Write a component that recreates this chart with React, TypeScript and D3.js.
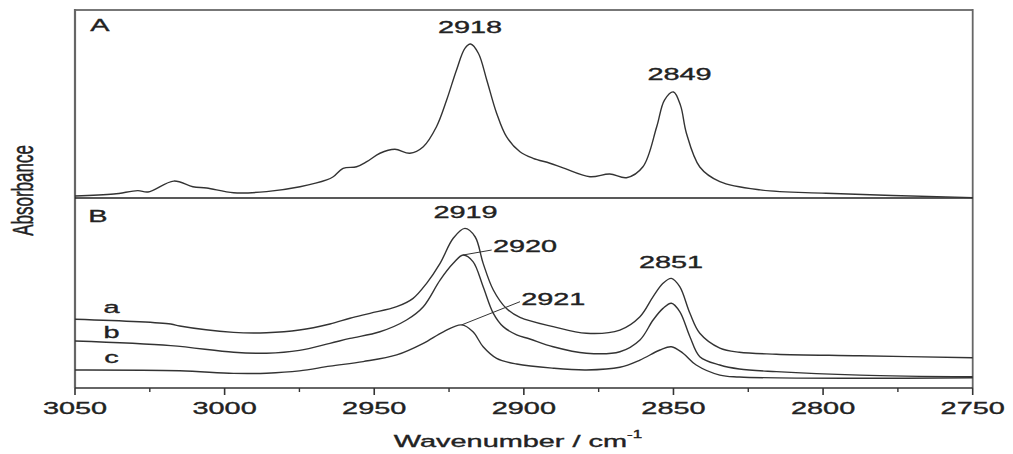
import React from 'react'
import * as d3 from 'd3'

// wavenumber (cm-1), absorbance (arb.)
const traceA: [number, number][] = [
  [3050, 0.011], [3037, 0.021], [3029, 0.039], [3025.6, 0.032], [3017, 0.09], [3010.6, 0.06],
  [3006, 0.053], [2997, 0.028], [2986, 0.034], [2974.8, 0.06], [2965.9, 0.096], [2963.7, 0.113],
  [2960.4, 0.158], [2955.9, 0.166], [2952.5, 0.193], [2948.1, 0.238], [2943.1, 0.259], [2938.1, 0.238],
  [2933.6, 0.273], [2929.2, 0.379], [2925.8, 0.521], [2922.5, 0.681], [2919.7, 0.796], [2917.8, 0.819],
  [2915.2, 0.77], [2912.4, 0.628], [2909.1, 0.451], [2905.8, 0.326], [2901.3, 0.246], [2896.9, 0.211],
  [2891.3, 0.185], [2886.9, 0.16], [2877.9, 0.113], [2871.3, 0.128], [2865.7, 0.108], [2860.2, 0.166],
  [2855.6, 0.379], [2853, 0.521], [2850, 0.564], [2847.6, 0.49], [2845.7, 0.346], [2841.2, 0.165],
  [2834.5, 0.087], [2821, 0.043], [2799, 0.025], [2750, 0.002],
]

const traceBa: [number, number][] = [
  [3050, 0.362], [3018, 0.337], [3015, 0.326], [2997, 0.293], [2986, 0.291], [2975, 0.305],
  [2964.8, 0.337], [2958.1, 0.367], [2951.4, 0.393], [2942.5, 0.428], [2937, 0.472], [2932.5, 0.551],
  [2928, 0.656], [2923.6, 0.788], [2919.7, 0.84], [2916.3, 0.796], [2913.6, 0.656], [2910.2, 0.516],
  [2905.8, 0.418], [2901.3, 0.372], [2890.2, 0.323], [2879.1, 0.288], [2867.9, 0.305], [2861.2, 0.375],
  [2856.8, 0.481], [2853.5, 0.551], [2850.7, 0.577], [2847.9, 0.533], [2844.5, 0.393], [2841.2, 0.288],
  [2834.5, 0.21], [2828, 0.188], [2815.6, 0.178], [2787.7, 0.17], [2750, 0.159],
]

const traceBb: [number, number][] = [
  [3050, 0.247], [3018, 0.223], [2997, 0.188], [2986, 0.183], [2975, 0.198], [2964.8, 0.235],
  [2958.1, 0.261], [2948.1, 0.296], [2939.2, 0.358], [2933.6, 0.428], [2928, 0.568], [2923.6, 0.656],
  [2920.3, 0.7], [2917, 0.665], [2913.6, 0.533], [2910.2, 0.393], [2906.9, 0.323], [2902.4, 0.28],
  [2898, 0.258], [2890.2, 0.217], [2879.1, 0.183], [2867.9, 0.191], [2861.2, 0.253], [2856.8, 0.358],
  [2853.5, 0.419], [2850.7, 0.446], [2847.9, 0.402], [2844.5, 0.27], [2841.2, 0.165], [2834.5, 0.121],
  [2828, 0.1], [2815.6, 0.086], [2787.7, 0.068], [2750, 0.059],
]

const traceBc: [number, number][] = [
  [3050, 0.095], [3015, 0.091], [2997, 0.077], [2986, 0.078], [2975, 0.09], [2964.8, 0.115],
  [2953.7, 0.139], [2942.5, 0.174], [2933.6, 0.235], [2926.9, 0.296], [2920.8, 0.332], [2917, 0.296],
  [2913.6, 0.217], [2909.1, 0.156], [2902.4, 0.126], [2890.2, 0.104], [2879.1, 0.095], [2867.9, 0.109],
  [2861.2, 0.147], [2854.5, 0.2], [2850.7, 0.217], [2846.8, 0.183], [2842.4, 0.121], [2834.5, 0.068],
  [2828, 0.058], [2787.7, 0.051], [2750, 0.054],
]

const majorTicks = [3050, 3000, 2950, 2900, 2850, 2800, 2750]
const minorTicks = [3025, 2975, 2925, 2875, 2825, 2775]

const SX = 1.7 // picture is stretched sideways
const FONT = '"Liberation Sans", Arial, sans-serif'
const INK = '#222'

function T({ x, y, children, size = 17, anchor = 'middle' }: any) {
  return (
    <text transform={`translate(${x},${y}) scale(${SX},1)`} textAnchor={anchor}
      fontSize={size} fontFamily={FONT} fill={INK} stroke={INK} strokeWidth={0.35}>{children}</text>
  )
}

export default function App() {
  const W = 1013, H = 454
  const m = { left: 75, right: 972.7, top: 10, mid: 198, bottom: 388 }

  const x = d3.scaleLinear().domain([3050, 2750]).range([m.left, m.right])
  const yA = d3.scaleLinear().domain([0, 1]).range([m.mid, m.top])
  const yB = d3.scaleLinear().domain([0, 1]).range([m.bottom, m.mid])

  const lineA = d3.line<[number, number]>().x(d => x(d[0])).y(d => yA(d[1])).curve(d3.curveCatmullRom.alpha(0.5))
  const lineB = d3.line<[number, number]>().x(d => x(d[0])).y(d => yB(d[1])).curve(d3.curveCatmullRom.alpha(0.5))

  return (
    <svg width={W} height={H} style={{ position: 'absolute', left: 0, top: 0, background: '#fff' }}>
      {/* frame */}
      <line x1={m.left} x2={m.right} y1={m.top} y2={m.top} stroke="#777" strokeWidth={1.8} />
      <line x1={m.left} x2={m.left} y1={m.top - 0.9} y2={m.bottom} stroke="#666" strokeWidth={2.2} />
      <line x1={m.right} x2={m.right} y1={m.top - 0.9} y2={m.bottom} stroke="#666" strokeWidth={1.8} />
      <line x1={m.left} x2={m.right} y1={m.mid} y2={m.mid} stroke="#222" strokeWidth={1.5} />
      <line x1={m.left} x2={m.right} y1={m.bottom} y2={m.bottom} stroke="#333" strokeWidth={1.6} />

      {majorTicks.map(t => (
        <g key={t}>
          <line x1={x(t)} x2={x(t)} y1={m.bottom} y2={m.bottom + 7} stroke="#333" strokeWidth={1.6} />
          <T x={x(t)} y={414}>{t}</T>
        </g>
      ))}
      {minorTicks.map(t => (
        <line key={t} x1={x(t)} x2={x(t)} y1={m.bottom} y2={m.bottom + 4} stroke="#333" strokeWidth={1.4} />
      ))}

      {/* axis titles */}
      <text transform={`translate(518,447) scale(${SX},1)`} textAnchor="middle" fontSize={17} fontFamily={FONT}
        fill={INK} stroke={INK} strokeWidth={0.35}>
        Wavenumber / cm<tspan fontSize={10} dy={-9}>-1</tspan>
      </text>
      <text transform={`translate(33,190.5) scale(${SX},1) rotate(-90)`} textAnchor="middle" fontSize={17} fontFamily={FONT}
        fill={INK} stroke={INK} strokeWidth={0.3}>
        Absorbance
      </text>

      {/* traces */}
      <g fill="none" stroke="#333" strokeWidth={1.4}>
        <path d={lineA(traceA) || ''} />
        <path d={lineB(traceBa) || ''} />
        <path d={lineB(traceBb) || ''} />
        <path d={lineB(traceBc) || ''} />
      </g>

      {/* annotations */}
      <T x={100} y={30.7}>A</T>
      <T x={98} y={221.7}>B</T>
      <T x={470} y={33.3}>2918</T>
      <T x={679.5} y={80}>2849</T>
      <T x={465.5} y={218.3}>2919</T>
      <T x={525} y={251.7}>2920</T>
      <T x={553.3} y={305}>2921</T>
      <T x={671} y={267.7}>2851</T>
      <T x={111.5} y={313.3}>a</T>
      <T x={111.5} y={338.3}>b</T>
      <T x={111.5} y={362.7}>c</T>

      <line x1={x(2920.3)} y1={yB(0.7)} x2={491.7} y2={250} stroke="#333" strokeWidth={1} />
      <line x1={x(2920.8)} y1={yB(0.332)} x2={520} y2={301.7} stroke="#333" strokeWidth={1} />
    </svg>
  )
}
